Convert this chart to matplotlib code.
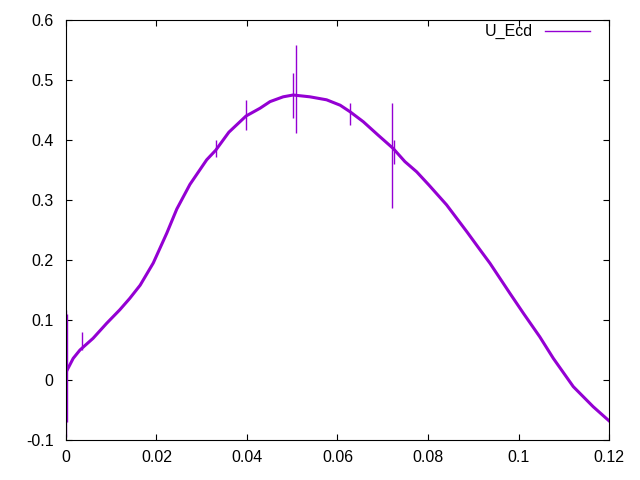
import matplotlib
matplotlib.use("Agg")
import matplotlib.pyplot as plt
from matplotlib.lines import Line2D

plt.rcParams['font.family'] = ['Liberation Sans', 'DejaVu Sans']
plt.rcParams['font.size'] = 11.5

# values
t = [0.0003, 0.0016, 0.0031, 0.006, 0.009, 0.0119, 0.0141, 0.0164, 0.0193,
     0.0223, 0.0245, 0.0274, 0.0311, 0.0331, 0.036, 0.0398, 0.0429, 0.0451,
     0.048, 0.0502, 0.0539, 0.0576, 0.0606, 0.0628, 0.0657, 0.069, 0.0723,
     0.0749, 0.0775, 0.0802, 0.0841, 0.0886, 0.0915, 0.0937, 0.0981, 0.1011,
     0.1047, 0.1077, 0.1121, 0.1165, 0.12]
u_ecd = [0.017, 0.036, 0.05, 0.0695, 0.0945, 0.117, 0.136, 0.158, 0.195,
         0.245, 0.285, 0.326, 0.367, 0.383, 0.413, 0.44, 0.453, 0.464,
         0.472, 0.475, 0.472, 0.467, 0.458, 0.447, 0.4305, 0.408, 0.386,
         0.364, 0.347, 0.325, 0.292, 0.247, 0.217, 0.1945, 0.1445, 0.111,
         0.072, 0.036, -0.011, -0.0445, -0.068]

# isolated spikes: position, lowest, highest
spike_t = [0.0001, 0.0002, 0.0036, 0.0331, 0.0398, 0.0501, 0.0508, 0.0628, 0.072, 0.0725]
spike_lo = [-0.095, -0.07, 0.05, 0.372, 0.417, 0.436, 0.412, 0.425, 0.287, 0.36]
spike_hi = [0.117, 0.11, 0.0805, 0.40, 0.467, 0.511, 0.558, 0.461, 0.461, 0.40]

color = '#9400D3'

fig = plt.figure(figsize=(6.4, 4.8), dpi=100)
ax = fig.add_axes([0.103, 0.0833, 0.8486, 0.875])

ax.plot(t, u_ecd, color=color, lw=2.2)
ax.vlines(spike_t, spike_lo, spike_hi, color=color, lw=1)

ax.set_xlim(0, 0.12)
ax.set_ylim(-0.1, 0.6)
ax.set_xticks([0, 0.02, 0.04, 0.06, 0.08, 0.1, 0.12])
ax.set_xticklabels(['0', '0.02', '0.04', '0.06', '0.08', '0.1', '0.12'])
ax.set_yticks([-0.1, 0, 0.1, 0.2, 0.3, 0.4, 0.5, 0.6])
ax.set_yticklabels(['-0.1', '0', '0.1', '0.2', '0.3', '0.4', '0.5', '0.6'])
ax.tick_params(direction='in', top=True, right=True, length=4.5, width=0.8)
ax.tick_params(axis='x', pad=7)
ax.tick_params(axis='y', pad=9)
for s in ax.spines.values():
    s.set_linewidth(0.8)

handle = Line2D([], [], color=color, lw=1)
ax.legend([handle], ['U_Ecd'], loc='upper right', bbox_to_anchor=(0.965, 0.99),
          frameon=False, markerfirst=False, handlelength=2.8, borderpad=0,
          borderaxespad=0, handletextpad=0.8)

fig.savefig('out.png', dpi=100)
